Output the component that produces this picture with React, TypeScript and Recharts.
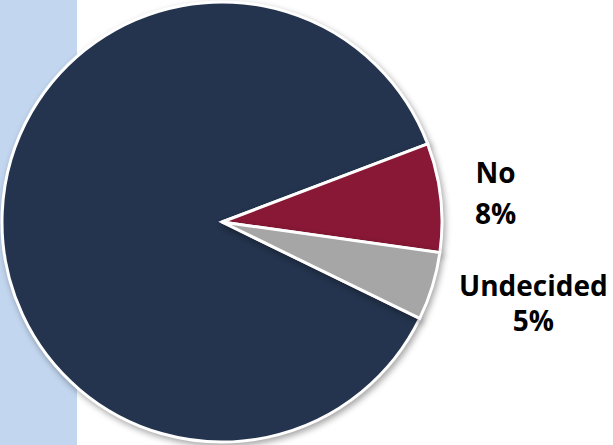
import { PieChart, Pie, Cell } from "recharts";

const answers = ["Yes", "No", "Undecided"];
const shares = [87, 8, 5];
const colors = ["#24344e", "#881835", "#a6a6a6"];

// label nudge from the slice's outer edge, and line gap (Yes has no label)
const labelNudge: Record<string, [number, number]> = {
  No: [55, -4],
  Undecided: [101, 17],
};
const lineGap: Record<string, number> = { No: 41, Undecided: 35 };

const data = answers.map((name, i) => ({ name, value: shares[i] }));

const RADIAN = Math.PI / 180;

function renderLabel(props: any) {
  const { cx, cy, midAngle, outerRadius, name, value } = props;
  const nudge = labelNudge[name];
  if (!nudge) return null;
  const x = cx + outerRadius * Math.cos(-midAngle * RADIAN) + nudge[0];
  const y = cy + outerRadius * Math.sin(-midAngle * RADIAN) + nudge[1];
  const gap = lineGap[name];
  return (
    <text
      x={x}
      y={y}
      textAnchor="middle"
      fill="#000"
      fontFamily="'Open Sans', sans-serif"
      fontWeight={700}
      fontSize={28}
    >
      <tspan x={x} y={y - gap / 2 + 10}>
        {name}
      </tspan>
      <tspan x={x} y={y + gap / 2 + 10}>
        {value}%
      </tspan>
    </text>
  );
}

export default function App() {
  return (
    <div style={{ position: "relative", width: 613, height: 445 }}>
      <style>{`body{margin:0}
        .recharts-pie-sector path{filter:drop-shadow(2px 3px 3px rgba(0,0,0,0.35));}`}</style>
      <div
        style={{
          position: "absolute",
          left: 0,
          top: 0,
          width: 77,
          height: 445,
          background: "#c2d6ef",
        }}
      />
      <div style={{ position: "absolute", left: 0, top: 0 }}>
        <PieChart
          width={613}
          height={445}
          margin={{ top: 0, right: 0, bottom: 0, left: 0 }}
        >
          <Pie
            data={data}
            dataKey="value"
            nameKey="name"
            cx={222}
            cy={222}
            outerRadius={220}
            startAngle={334}
            endAngle={-26}
            stroke="#ffffff"
            strokeWidth={3}
            labelLine={false}
            label={renderLabel}
            isAnimationActive={false}
          >
            {data.map((d, i) => (
              <Cell key={d.name} fill={colors[i]} />
            ))}
          </Pie>
        </PieChart>
      </div>
    </div>
  );
}
